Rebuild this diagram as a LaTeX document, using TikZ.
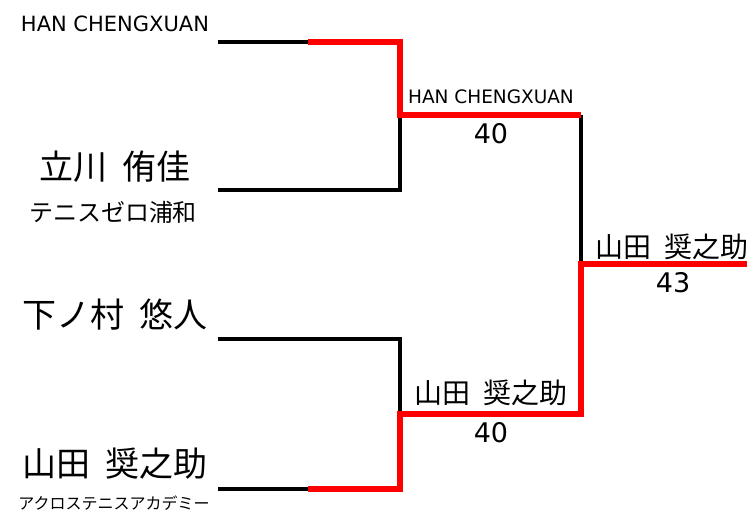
\documentclass[tikz,border=0pt]{standalone}
\usepackage{fontspec}
\setmainfont{DejaVu Sans}
\newfontfamily\jpfont{Noto Sans CJK JP}
\usepackage{tikz}
\usetikzlibrary{positioning}
\definecolor{winred}{RGB}{255,0,0}
\newcommand{\namegap}{\hspace{0.45em}}

\begin{document}
\begin{tikzpicture}[
    x=1pt,y=-1pt,
    lose/.style={draw=black,line width=3.5pt},
    win/.style={draw=winred,line width=5.5pt},
    player/.style={inner sep=0pt,font=\jpfont\fontsize{34}{34}\selectfont},
    club/.style={inner sep=0pt,font=\jpfont\fontsize{24}{24}\selectfont},
    latin/.style={inner sep=0pt,font=\fontsize{21}{21}\selectfont},
    score/.style={inner sep=0pt,font=\fontsize{27}{27}\selectfont},
    winner/.style={inner sep=0pt,font=\jpfont\fontsize{28}{28}\selectfont}
]
\useasboundingbox (0,0) rectangle (747,513);
% bracket points
\coordinate (p1) at (218,42);
\coordinate (p2) at (218,190);
\coordinate (p3) at (218,339);
\coordinate (p4) at (218,489);
\coordinate (h1) at (308,42);
\coordinate (h4) at (308,489);
\coordinate (j1) at (400,42);
\coordinate (j2) at (400,190);
\coordinate (j3) at (400,339);
\coordinate (j4) at (400,489);
\coordinate (m1) at (400,115);
\coordinate (m2) at (400,414);
\coordinate (s1) at (581,115);
\coordinate (s2) at (581,414);
\coordinate (f) at (581,264);
\coordinate (fe) at (747,264);
% players
\node[latin] (n1) at (115,24) {HAN CHENGXUAN};
\node[player] (n2) at (115,167) {立川\namegap 侑佳};
\node[club] (c2) at (113,212) {テニスゼロ浦和};
\node[player] (n3) at (115,315) {下ノ村\namegap 悠人};
\node[player] (n4) at (115,464) {山田\namegap 奨之助};
\node[club,font=\jpfont\fontsize{16}{16}\selectfont] (c4) at (114,503) {アクロステニスアカデミー};
% losing lines
\draw[lose] (p1) -- (h1);
\draw[lose] (p2) -- (j2) -- (m1);
\draw[lose] (p3) -- (j3) -- (m2);
\draw[lose] (p4) -- (h4);
\draw[lose] (s1) -- (f);
% winning lines
\draw[win] (h1) -- (j1) -- (m1) -- (s1);
\draw[win] (h4) -- (j4) -- (m2) -- (s2) -- (f) -- (fe);
% results
\node[latin,font=\fontsize{18.5}{18.5}\selectfont] (w1) at (491,97) {HAN CHENGXUAN};
\node[score] (r1) at (491,134) {40};
\node[winner] (w2) at (491,393) {山田\namegap 奨之助};
\node[score] (r2) at (491,433) {40};
\node[winner] (w3) at (672,247) {山田\namegap 奨之助};
\node[score] (r3) at (673,283) {43};
\end{tikzpicture}
\end{document}
